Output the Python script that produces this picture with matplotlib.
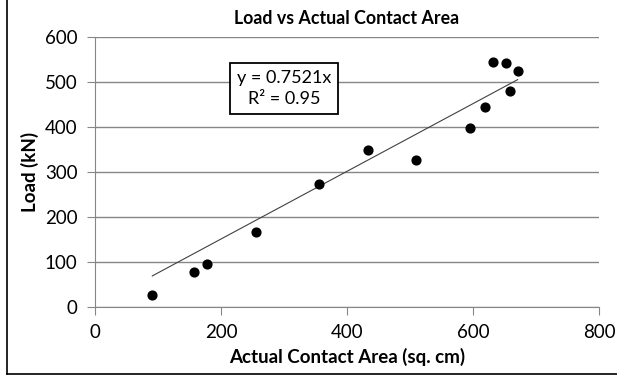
import numpy as np
import matplotlib; matplotlib.use('Agg')
import matplotlib.pyplot as plt
from matplotlib.lines import Line2D

plt.rcParams['font.family'] = ['Lato', 'DejaVu Sans']

# --- Donnees ---
area = [91, 157, 178, 255, 356, 433, 509, 596, 619, 631, 653, 659, 671]
load = [26, 77, 96, 166, 272, 348, 326, 398, 444, 544, 542, 479, 524]
slope = 0.7521
r2 = 0.95

W, H = 617, 381
fig = plt.figure(figsize=(W / 100, H / 100), dpi=100)
ax = fig.add_axes([95 / W, 1 - 306.7 / H, 504 / W, 270 / H])

# Cadre du graphique (seuls les bords gauche et bas sont visibles)
fig.lines.append(Line2D([6.5 / W, 6.5 / W], [1, 1 - 374 / H], transform=fig.transFigure,
                        color='black', lw=1.2))
fig.lines.append(Line2D([6.5 / W, 1], [1 - 374 / H, 1 - 374 / H], transform=fig.transFigure,
                        color='black', lw=1.2))

ax.scatter(area, load, s=40, color='black', zorder=3)
xt = np.array([min(area), max(area)])
ax.plot(xt, slope * xt, color='#404040', lw=0.8, zorder=2)

ax.set_xlim(0, 800)
ax.set_ylim(0, 600)
ax.set_xticks(range(0, 801, 200))
ax.set_yticks(range(0, 601, 100))
ax.grid(axis='y', color='#868686', lw=1)
ax.set_axisbelow(True)
for s in ['top', 'right']:
    ax.spines[s].set_visible(False)
for s in ['left', 'bottom']:
    ax.spines[s].set_color('#868686')
ax.tick_params(colors='#868686', labelcolor='black', labelsize=13.5, length=5.5)
ax.tick_params(axis='y', pad=7)
ax.tick_params(axis='x', pad=7)

ax.set_title('Load vs Actual Contact Area', fontsize=12.8, fontweight='bold', pad=9)
ax.set_xlabel('Actual Contact Area (sq. cm)', fontsize=13.5, fontweight='bold', labelpad=5)
ax.set_ylabel('Load (kN)', fontsize=13.5, fontweight='bold', labelpad=4)

ax.text(300, 485, f'y = {slope}x\nR² = {r2}', ha='center', va='center', fontsize=13,
        linespacing=1.35,
        bbox=dict(boxstyle='square,pad=0.4', fc='white', ec='black', lw=1.3))

plt.savefig('out.png', dpi=100)
